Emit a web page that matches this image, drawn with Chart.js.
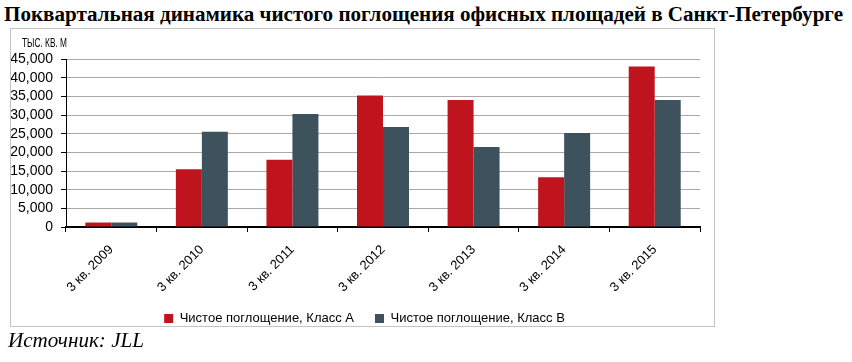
<!DOCTYPE html>
<html>
<head>
<meta charset="utf-8">
<script src="https://cdn.jsdelivr.net/npm/chart.js@4"></script>
<style>
  body { margin: 0; width: 852px; height: 362px; background: #fff; position: relative; overflow: hidden; }
  #title { position: absolute; left: 4px; top: 3px; font: bold 20px "Liberation Serif", serif; white-space: nowrap; transform-origin: 0 0; color: #000; }
  #box { position: absolute; left: 10px; top: 28px; width: 705px; height: 299px; box-sizing: border-box; border: 1px solid #c4c4c4; }
  #unit { position: absolute; left: 22px; top: 36px; font: 12px "Liberation Sans", sans-serif; white-space: nowrap; transform-origin: 0 0; color: #000; }
  #wrap { position: absolute; left: 11px; top: 29px; width: 703px; height: 306px; }
  #source { position: absolute; left: 8px; top: 329px; font: italic 20px "Liberation Serif", serif; white-space: nowrap; transform-origin: 0 0; color: #000; }
</style>
</head>
<body>
<div id="title">Поквартальная динамика чистого поглощения офисных площадей в Санкт-Петербурге</div>
<div id="box"></div>
<div id="wrap"><canvas id="chart" width="703" height="306"></canvas></div>
<div id="unit">ТЫС. КВ. М</div>
<div id="source">Источник: JLL</div>
<script>
const quarters = ["3 кв. 2009", "3 кв. 2010", "3 кв. 2011", "3 кв. 2012", "3 кв. 2013", "3 кв. 2014", "3 кв. 2015"];
const classA = [1200, 15500, 18000, 35200, 34000, 13300, 43000];
const classB = [1200, 25500, 30300, 26800, 21400, 25200, 34000];
const seriesNames = ["Чистое поглощение, Класс А", "Чистое поглощение, Класс В"];

function fitWidth(id, target) {
  const el = document.getElementById(id);
  const w = el.getBoundingClientRect().width;
  el.style.transform = `scaleX(${target / w})`;
}
fitWidth("title", 839);
fitWidth("unit", 45);
fitWidth("source", 136);

const legendShift = {
  id: "legendShift",
  afterLayout(chart) {
    chart.legend.left += 9;
    chart.legend.right += 9;
  },
};

new Chart(document.getElementById("chart"), {
  type: "bar",
  data: {
    labels: quarters,
    datasets: [
      { label: seriesNames[0], data: classA, backgroundColor: "#bf141e" },
      { label: seriesNames[1], data: classB, backgroundColor: "#3e525e" },
    ],
  },
  options: {
    responsive: false,
    animation: false,
    layout: { padding: { top: 30, right: 14, left: 0, bottom: 0 } },
    categoryPercentage: 0.574,
    barPercentage: 1,
    scales: {
      x: {
        grid: { drawOnChartArea: false, offset: true, tickColor: "#000", tickLength: 5 },
        border: { color: "#000", width: 2 },
        ticks: {
          color: "#000",
          font: { family: "Liberation Sans", size: 13 },
          minRotation: 45,
          maxRotation: 45,
          padding: 10,
        },
        afterFit: (s) => { s.height = 64; },
      },
      y: {
        min: 0,
        max: 45000,
        ticks: {
          stepSize: 5000,
          autoSkip: false,
          color: "#000",
          padding: 8,
          font: { family: "Liberation Sans", size: 14 },
          callback: (v) => v.toLocaleString("en-US"),
        },
        grid: { color: "#a9a9a9", tickColor: "#000", tickLength: 5 },
        border: { color: "#000", width: 1 },
        afterFit: (s) => { s.width = 55; },
      },
    },
    plugins: {
      legend: {
        position: "bottom",
        labels: {
          boxWidth: 9,
          boxHeight: 9,
          padding: 21,
          color: "#000",
          font: { family: "Liberation Sans", size: 13 },
        },
      },
      tooltip: { enabled: false },
    },
  },
  plugins: [legendShift],
});
</script>
</body>
</html>
